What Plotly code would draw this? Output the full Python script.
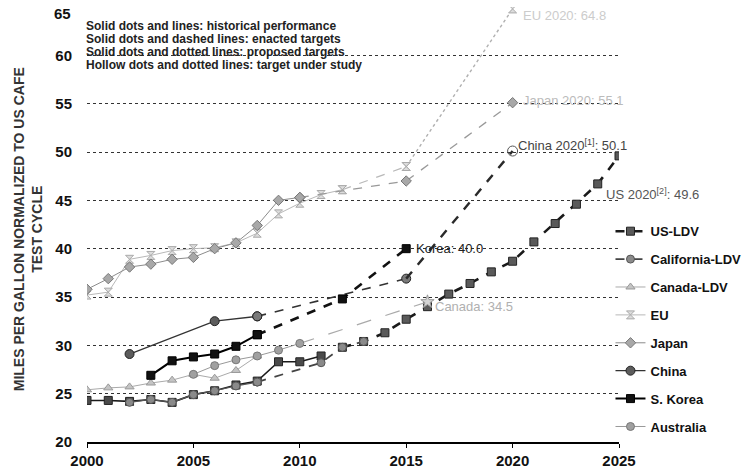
import plotly.graph_objects as go

FONT = "Liberation Sans, Arial, Helvetica, sans-serif"

# ---------------- data ----------------
us_hist_years = [2000, 2001, 2002, 2003, 2004, 2005, 2006, 2007, 2008, 2009, 2010, 2011]
us_hist_mpg = [24.3, 24.3, 24.2, 24.4, 24.1, 24.9, 25.3, 25.9, 26.3, 28.3, 28.3, 28.9]
us_target_years = [2012, 2013, 2014, 2015, 2016, 2017, 2018, 2019, 2020, 2021, 2022, 2023, 2024, 2025]
us_target_mpg = [29.8, 30.4, 31.3, 32.7, 34.0, 35.3, 36.4, 37.6, 38.7, 40.7, 42.6, 44.6, 46.7, 49.6]

ca_hist_years = [2002, 2003, 2004, 2005, 2006, 2007, 2008]
ca_hist_mpg = [24.1, 24.4, 24.1, 24.9, 25.3, 25.8, 26.2]
ca_target_years = [2008, 2011, 2012, 2013]
ca_target_mpg = [26.2, 28.2, 29.8, 30.4]

can_hist_years = [2000, 2001, 2002, 2003, 2004, 2005, 2006, 2007, 2008]
can_hist_mpg = [25.4, 25.6, 25.7, 26.1, 26.4, 27.0, 26.6, 27.4, 28.9]
can_target_years = [2010, 2016]
can_target_mpg = [30.2, 34.5]

eu_hist_years = [2000, 2001, 2002, 2003, 2004, 2005, 2006, 2007, 2008, 2009, 2010, 2011, 2012]
eu_hist_mpg = [35.2, 35.5, 38.9, 39.3, 39.8, 40.0, 40.1, 40.6, 41.6, 43.6, 44.7, 45.6, 46.1]
eu_target_years = [2012, 2015]
eu_target_mpg = [46.1, 48.5]
eu_study_years = [2015, 2020]
eu_study_mpg = [48.5, 64.8]

jp_hist_years = [2000, 2001, 2002, 2003, 2004, 2005, 2006, 2007, 2008, 2009, 2010]
jp_hist_mpg = [35.8, 36.9, 38.1, 38.4, 38.9, 39.1, 40.0, 40.6, 42.4, 45.0, 45.3]
jp_target_years = [2010, 2015, 2020]
jp_target_mpg = [45.3, 47.0, 55.1]

cn_hist_years = [2002, 2006, 2008]
cn_hist_mpg = [29.1, 32.5, 33.0]
cn_target_years = [2008, 2015]
cn_target_mpg = [33.0, 36.9]
cn_proposed_years = [2015, 2020]
cn_proposed_mpg = [36.9, 50.1]

kr_hist_years = [2003, 2004, 2005, 2006, 2007, 2008]
kr_hist_mpg = [26.9, 28.4, 28.8, 29.1, 29.9, 31.1]
kr_target_years = [2008, 2012, 2015]
kr_target_mpg = [31.1, 34.8, 40.0]

au_hist_years = [2005, 2006, 2007, 2008, 2009, 2010]
au_hist_mpg = [27.0, 27.9, 28.5, 28.9, 29.5, 30.2]

y_ticks = [20, 25, 30, 35, 40, 45, 50, 55, 60, 65]
y_tick_text = ["20", "25", "30", "35", "40", "45", "50", "55", "60", ""]
y_top_label = "65"
x_ticks = [2000, 2005, 2010, 2015, 2020, 2025]

notes = [
    "Solid dots and lines: historical performance",
    "Solid dots and dashed lines: enacted targets",
    "Solid dots and dotted lines: proposed targets",
    "Hollow dots and dotted lines: target under study",
]

fig = go.Figure()


def add(x, y, name, group, show, lcolor, lwidth, dash, symbol, mcolor, msize, mline="#333", mode="lines+markers"):
    fig.add_trace(go.Scatter(
        x=x, y=y, name=name, legendgroup=group, showlegend=show, mode=mode,
        line=dict(color=lcolor, width=lwidth, dash=dash),
        marker=dict(symbol=symbol, color=mcolor, size=msize, line=dict(color=mline, width=1)),
        hoverinfo="skip",
    ))


# US-LDV
add(us_target_years, us_target_mpg, "US-LDV", "us", True, "#1a1a1a", 2.6, "dash", "square", "#5a5a5a", 8, "#222")
add(us_hist_years, us_hist_mpg, "US-LDV", "us", False, "#1a1a1a", 1.6, "solid", "square", "#4a4a4a", 8, "#222")
# California-LDV
add(ca_target_years, ca_target_mpg, "California-LDV", "ca", True, "#444", 1.8, "dash", "circle", "#8a8a8a", 8, "#555")
add(ca_hist_years, ca_hist_mpg, "California-LDV", "ca", False, "#555", 1.2, "solid", "circle", "#8a8a8a", 8, "#555")
# Canada-LDV
add(can_hist_years, can_hist_mpg, "Canada-LDV", "can", True, "#aaa", 1, "solid", "triangle-up", "#c4c4c4", 8, "#999")
add(can_target_years, can_target_mpg, "Canada-LDV", "can", False, "#aaa", 1.2, "longdash", "triangle-up", "#c4c4c4", 8, "#999", mode="lines")
add([2016], [34.5], "Canada-LDV", "can", False, "#aaa", 1, "solid", "star", "#d4d4d4", 10, "#999", mode="markers")
# EU
add(eu_hist_years, eu_hist_mpg, "EU", "eu", True, "#b8b8b8", 1, "solid", "hourglass", "#dcdcdc", 8, "#aaa")
add(eu_target_years, eu_target_mpg, "EU", "eu", False, "#b8b8b8", 1.2, "dash", "hourglass", "#dcdcdc", 8, "#aaa")
add(eu_study_years, eu_study_mpg, "EU", "eu", False, "#b0b0b0", 1.4, "dot", "hourglass", "#dcdcdc", 8, "#aaa")
# Japan
add(jp_hist_years, jp_hist_mpg, "Japan", "jp", True, "#8c8c8c", 1, "solid", "diamond", "#a8a8a8", 8, "#777")
add(jp_target_years, jp_target_mpg, "Japan", "jp", False, "#999", 1.3, "dash", "diamond", "#a8a8a8", 8, "#777")
# China
add(cn_hist_years, cn_hist_mpg, "China", "cn", True, "#333", 1.3, "solid", "circle", "#5c5c5c", 9, "#222")
add(cn_target_years, cn_target_mpg, "China", "cn", False, "#333", 1.6, "dash", "circle", "#7a7a7a", 9, "#222")
add(cn_proposed_years, cn_proposed_mpg, "China", "cn", False, "#2a2a2a", 2.4, "dash", "circle", "#7a7a7a", 9, "#222", mode="lines")
add([2020], [50.1], "China", "cn", False, "#333", 1, "solid", "circle-open", "#555", 10, "#555", mode="markers")
# S. Korea
add(kr_hist_years, kr_hist_mpg, "S. Korea", "kr", True, "#000", 2, "solid", "square", "#111", 8, "#000")
add(kr_target_years, kr_target_mpg, "S. Korea", "kr", False, "#111", 2.6, "dash", "square", "#111", 8, "#000")
# Australia
add(au_hist_years, au_hist_mpg, "Australia", "au", True, "#999", 1, "solid", "circle", "#a0a0a0", 8, "#777")

# ---------------- annotations ----------------
ann = []
for i, t in enumerate(notes):
    ann.append(dict(xref="paper", yref="paper", x=0.0, y=(441.7 - (25.5 + 13 * i)) / 435.1,
                    xanchor="left", yanchor="middle", showarrow=False, text=t, xshift=-3,
                    font=dict(family=FONT, size=12, color="#222", weight="bold")))

ann += [
    dict(xref="paper", yref="y", x=0, y=65, text=y_top_label, xanchor="right", yanchor="middle",
         xshift=-14, yshift=-6, showarrow=False,
         font=dict(family=FONT, size=15, color="#111", weight="bold")),
    dict(x=2015, y=40.0, text="Korea: 40.0", xanchor="left", yanchor="middle", xshift=8, showarrow=False,
         font=dict(family=FONT, size=13, color="#222")),
    dict(x=2016, y=34.0, text="Canada: 34.5", xanchor="left", yanchor="middle", xshift=6, showarrow=False,
         font=dict(family=FONT, size=13, color="#b0b0b0")),
    dict(x=2020, y=50.1, text="China 2020<sup>[1]</sup>: 50.1", xanchor="left", yanchor="middle", xshift=3, yshift=6,
         showarrow=False, font=dict(family=FONT, size=13, color="#444")),
    dict(x=2024.3, y=45.7, text="US 2020<sup>[2]</sup>: 49.6", xanchor="left", yanchor="middle", showarrow=False,
         font=dict(family=FONT, size=13, color="#555")),
    dict(x=2020, y=55.3, text="Japan 2020: 55.1", xanchor="left", yanchor="middle", xshift=8, showarrow=False,
         font=dict(family=FONT, size=13, color="#bbbbbb")),
    dict(x=2020, y=64.1, text="EU 2020: 64.8", xanchor="left", yanchor="middle", xshift=8, showarrow=False,
         font=dict(family=FONT, size=13, color="#cccccc")),
    dict(xref="paper", yref="paper", x=-0.112, y=0.49, textangle=-90, showarrow=False,
         text="MILES PER GALLON NORMALIZED TO US CAFE<br>TEST CYCLE",
         font=dict(family=FONT, size=14, color="#333", weight="bold"), xanchor="center", yanchor="middle"),
]

fig.update_layout(
    width=745, height=473,
    margin=dict(l=87, r=126, t=7, b=31, autoexpand=False),
    paper_bgcolor="white", plot_bgcolor="white",
    font=dict(family=FONT),
    annotations=ann,
    legend=dict(x=0.984, y=0.519, xanchor="left", yanchor="top", traceorder="grouped",
                tracegroupgap=8, itemwidth=30, bgcolor="rgba(0,0,0,0)",
                font=dict(family=FONT, size=13, color="#111", weight="bold")),
    xaxis=dict(range=[2000, 2025], tickvals=x_ticks, showgrid=False, zeroline=False,
               showline=True, linecolor="#000", linewidth=1.5, ticks="outside", ticklen=4,
               tickcolor="#000", tickfont=dict(family=FONT, size=15, color="#111", weight="bold")),
    yaxis=dict(range=[20, 65], tickvals=y_ticks, ticktext=y_tick_text, showgrid=True, gridcolor="#333",
               griddash="dot", gridwidth=1, zeroline=False, showline=False, ticks="",
               ticklabelstandoff=14,
               tickfont=dict(family=FONT, size=15, color="#111", weight="bold")),
)

fig.write_html("out.html", config={"displayModeBar": False},
               post_script="document.body.style.margin='0px';")
